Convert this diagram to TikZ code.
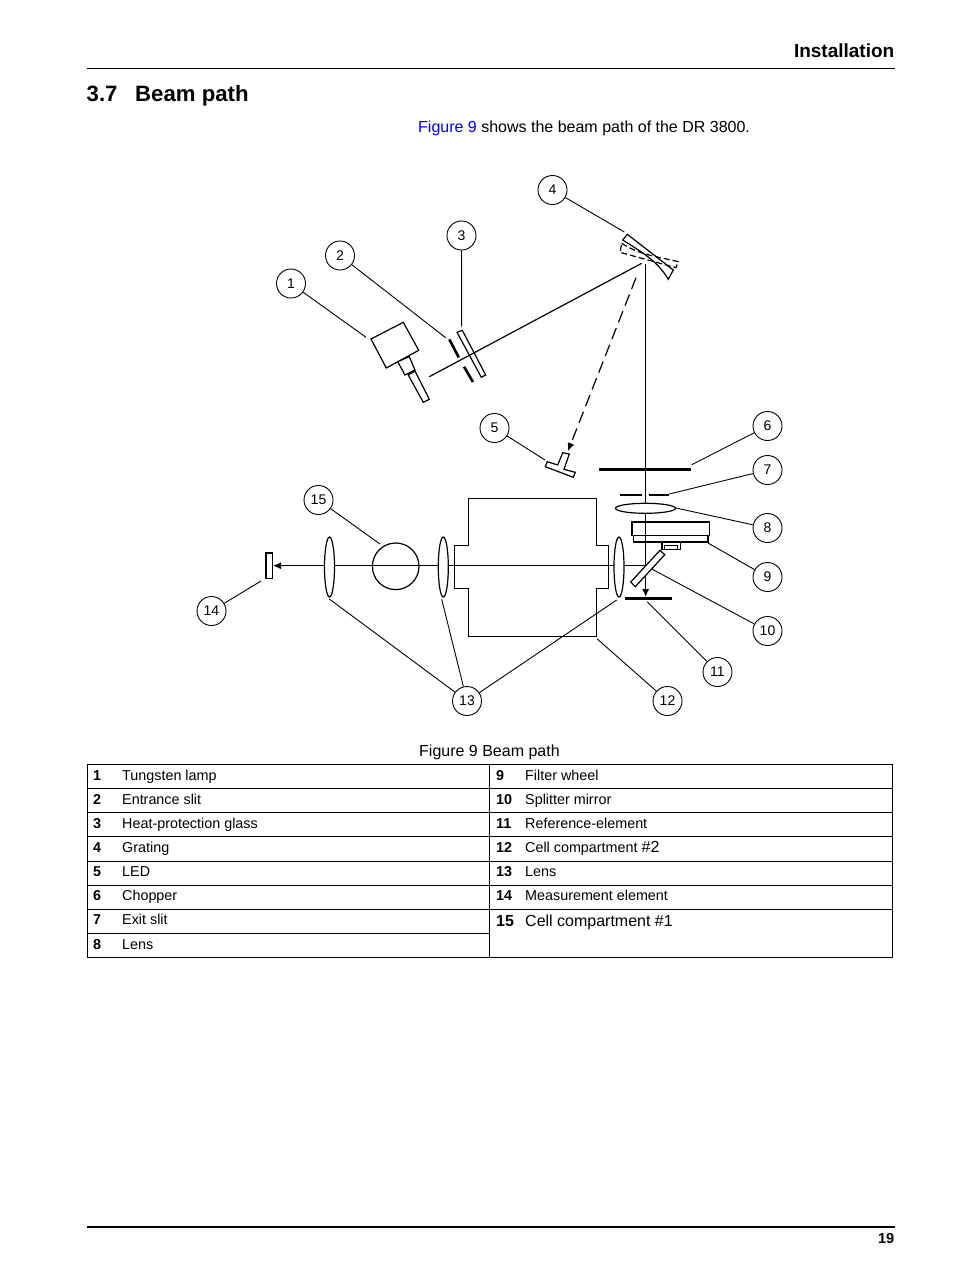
\documentclass[tikz,border=0pt]{standalone}
\usepackage{fontspec}
\usetikzlibrary{arrows.meta}
\setmainfont{Liberation Sans}
\definecolor{linkblue}{RGB}{0,0,255}
\tikzset{
	callout/.style={draw,circle,fill=white,line width=0.9pt,minimum size=29pt,inner sep=0pt,font=\fontsize{14}{16}\selectfont},
	leader/.style={line width=0.9pt},
	beam/.style={line width=1.2pt},
	part/.style={draw,line width=1.2pt,fill=white},
	bar/.style={line width=3pt},
	tip/.style={-{Latex[length=8pt,width=7pt]}},
	celltext/.style={anchor=base west,inner sep=0pt,font=\fontsize{14.35}{16}\selectfont},
	cellnum/.style={anchor=base west,inner sep=0pt,font=\fontsize{14.35}{16}\selectfont\bfseries},
	bigtext/.style={anchor=base west,inner sep=0pt,font=\fontsize{16}{19}\selectfont},
}
\begin{document}
\begin{tikzpicture}[x=1pt,y=-1pt]
	\useasboundingbox[fill=white] (0,0) rectangle (954,1270);

	% Page head
	\node[anchor=base east,inner sep=0pt,font=\fontsize{19}{22}\selectfont\bfseries] (header) at (894.5,57) {Installation};
	\draw[line width=1pt] (87,68.5) -- (894.5,68.5);
	\node[anchor=base west,inner sep=0pt,font=\fontsize{22.2}{26}\selectfont\bfseries] (secnum) at (86.5,101) {3.7};
	\node[anchor=base west,inner sep=0pt,font=\fontsize{22.2}{26}\selectfont\bfseries] (sectitle) at (135,101) {Beam path};
	\node[bigtext] (intro) at (418,132) {\textcolor{linkblue}{Figure 9} shows the beam path of the DR 3800.};

	% Free ends of the beams
	\coordinate (lampend) at (429.3,376.7);
	\coordinate (gratin) at (641.7,263.3);
	\coordinate (gratout) at (645.7,264);
	\coordinate (gratled) at (636,277.7);
	\coordinate (ledtip) at (568,451);
	\coordinate (refbar) at (645.7,597);
	\coordinate (split) at (647,565.7);
	\coordinate (meas) at (273,565.7);

	% Cell compartment
	\draw[line width=1.2pt] (468.3,498.3) -- (596.3,498.3) -- (596.3,545.7) -- (608.3,545.7) -- (608.3,588.3) -- (596.3,588.3) -- (596.3,636.3) -- (468.3,636.3) -- (468.3,588.3) -- (454.7,588.3) -- (454.7,545.7) -- (468.3,545.7) -- cycle;

	% Beams
	\draw[beam] (lampend) -- (gratin);
	\draw[beam,tip] (gratout) -- (refbar);
	\draw[beam,tip] (split) -- (meas);
	\draw[beam,dash pattern=on 12pt off 6pt,tip] (gratled) -- (ledtip);

	% Lamp
	\draw[part] (371,339) -- (403.3,322.3) -- (418.7,350.3) -- (386.3,368) -- cycle;
	\draw[part] (397.7,361.7) -- (409.3,356.7) -- (415,370) -- (405,375) -- cycle;
	\draw[part] (408.3,375) -- (415,371) -- (429.3,399.3) -- (423.3,402.3) -- cycle;

	% Entrance slit
	\draw[line width=2.6pt] (449.3,339.3) -- (458.7,357.3);
	\draw[line width=2.6pt] (464,366.7) -- (473,382);

	% Heat-protection glass
	\draw[line width=1.2pt] (457,332.3) -- (462.3,330.3) -- (485.7,375) -- (481.3,377.3) -- cycle;

	% Grating
	\draw[line width=1.2pt] (627.3,234.3) -- (673.3,270) -- (668.3,279.3) .. controls (658,262) and (645,254) .. (622.7,240) -- cycle;
	\draw[line width=1.2pt,dash pattern=on 6pt off 3pt] (621.7,243.3) .. controls (640,255) and (655,256) .. (678.3,261.7) -- (676,267.7) -- (620,252.3) -- cycle;

	% LED
	\draw[part] (562.7,452.7) -- (569.3,454) -- (564,469.3) -- (575.3,472.3) -- (573.3,477.3) -- (545.3,466.7) -- (547.3,461.7) -- (557.7,465) -- cycle;

	% Chopper and exit slit
	\draw[bar] (599.3,469.7) -- (691,469.7);
	\draw[line width=2.6pt] (620.3,495) -- (642,495);
	\draw[line width=2.6pt] (648.7,495) -- (669,495);

	% Lenses
	\draw[part] (645.5,508.3) ellipse (30pt and 5pt);
	\foreach \x in {329.5,443.3,619}{
			\draw[part] (\x,567) ellipse (5pt and 30pt);
		}

	% Filter wheel
	\draw[line width=1.2pt] (632,522) rectangle (709.3,535.7);
	\draw[line width=1.2pt] (633.7,535.7) rectangle (708,542);
	\draw[line width=1.2pt] (662,542) rectangle (680.7,549.3);
	\draw[line width=1pt] (664,545.3) rectangle (677.3,549.3);

	% Splitter mirror
	\draw[part] (660,550.3) -- (664.7,554.7) -- (635.3,586.7) -- (630.7,582) -- cycle;

	% Reference-element
	\draw[line width=2.6pt] (624.7,598.3) -- (671.7,598.3);

	% Measurement element
	\draw[line width=1.2pt] (266,553) rectangle (272.3,578.7);

	% Cell compartment #1
	\draw[line width=1.2pt] (395.7,566.3) circle (23.3pt);

	% Callouts
	\foreach \i/\x/\y in {1/291/283.5,2/340/255.5,3/461.5/235.5,4/552.5/190,5/494.5/428,6/767.5/426,7/767.5/470,8/767.5/528,9/767.5/577,10/767.5/631,11/717.5/672,12/667.5/701,13/467/701,14/211.5/611,15/318.5/500}{
			\node[callout] (c\i) at (\x,\y) {\i};
		}

	% Ends of the leaders
	\foreach \i/\x/\y in {1/366/337.3,2/445.7/337.7,3/461.7/327.3,4/624.3/232,5/545/460,6/691.7/464.7,7/669.3/494,8/676/508,9/708/543,10/652.3/569.3,11/647.3/601.7,12/597.3/639,14/261/581,15/380/544}{
			\coordinate (p\i) at (\x,\y);
			\draw[leader] (c\i) -- (p\i);
		}
	\coordinate (p13a) at (329.3,599);
	\coordinate (p13b) at (441.7,599.3);
	\coordinate (p13c) at (616.7,600);
	\draw[leader] (c13) -- (p13a);
	\draw[leader] (c13) -- (p13b);
	\draw[leader] (c13) -- (p13c);

	% Caption
	\node[bigtext] (caption) at (419,756) {Figure 9 Beam path};

	% Table
	\draw[line width=1pt] (87,764.5) rectangle (892.5,957.5);
	\draw[line width=1pt] (489.5,764.5) -- (489.5,957.5);
	\foreach \i in {1,2,...,6}{
			\draw[line width=1pt] (87,{764.5+24.15*\i}) -- (892.5,{764.5+24.15*\i});
		}
	\draw[line width=1pt] (87,933.5) -- (489.5,933.5);

	\foreach \i/\txt in {1/Tungsten lamp,2/Entrance slit,3/Heat-protection glass,4/Grating,5/LED,6/Chopper,7/Exit slit,8/Lens}{
			\node[cellnum] (n\i) at (93,{780+24.15*(\i-1)}) {\i};
			\node[celltext] (d\i) at (122,{780+24.15*(\i-1)}) {\txt};
		}
	\foreach \i/\txt in {9/Filter wheel,10/Splitter mirror,11/Reference-element,12/Cell compartment {\fontsize{16}{19}\selectfont\#2},13/Lens,14/Measurement element}{
			\node[cellnum] (n\i) at (496,{780+24.15*(\i-9)}) {\i};
			\node[celltext] (d\i) at (525,{780+24.15*(\i-9)}) {\txt};
		}
	\node[bigtext,font=\fontsize{16}{19}\selectfont\bfseries] (n15) at (496,926) {15};
	\node[bigtext] (d15) at (525,926) {Cell compartment \#1};

	% Page foot
	\draw[line width=1.6pt] (87,1227) -- (894.5,1227);
	\node[anchor=base east,inner sep=0pt,font=\fontsize{14.5}{17}\selectfont\bfseries] (pagenum) at (894.5,1243) {19};
\end{tikzpicture}
\end{document}
